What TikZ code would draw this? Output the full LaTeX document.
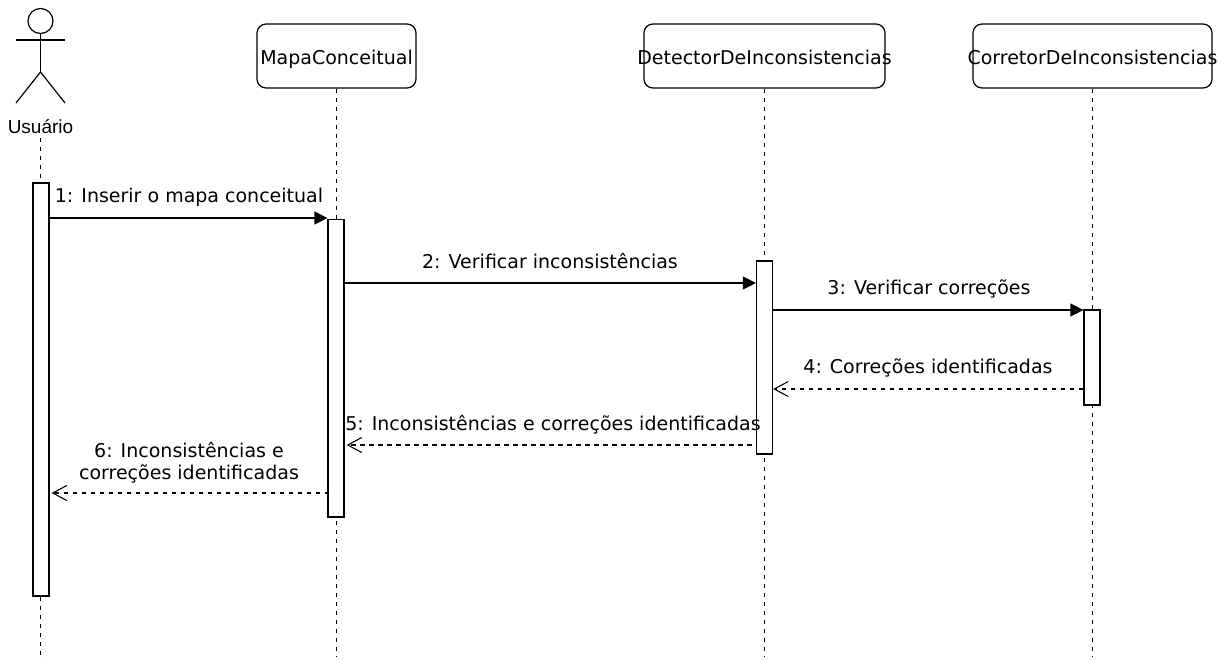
\documentclass[tikz,border=0pt]{standalone}
\usepackage{fontspec}
\setmainfont{DejaVu Sans}
\newfontfamily\actorfont{Liberation Sans}
\usetikzlibrary{arrows.meta}
\tikzset{
    classbox/.style={draw,line width=1.2pt,rounded corners=9pt,minimum height=64pt,inner sep=0pt,font=\fontsize{19}{23}\selectfont},
    bar/.style={draw,fill=white,line width=1.2pt,minimum width=16pt,inner sep=0pt},
    lifeline/.style={line width=1.1pt,dash pattern=on 4.5pt off 4.5pt},
    call/.style={line width=1.2pt,-{Triangle[length=13pt,width=13pt]}},
    reply/.style={line width=1.1pt,dash pattern=on 4.5pt off 4.5pt,-{Straight Barb[length=14pt,width=15pt,line width=1.1pt]}},
    msg/.style={font=\fontsize{19}{22}\selectfont,inner sep=0pt,align=center}
}
\newcommand{\classname}[1]{\makebox[0pt]{\raisebox{-8.5pt}[0pt][0pt]{#1}}}
\begin{document}
\begin{tikzpicture}[x=1pt,y=-1pt]
    \useasboundingbox (0,0) rectangle (1224,659);
    % Ator
    \draw [line width=1.2pt] (40.5,21) circle (12.5pt);
    \draw [line width=1.2pt] (40.5,33.5) -- (40.5,72);
    \draw [line width=1.2pt] (16,40) -- (65,40);
    \draw [line width=1.2pt] (16,103) -- (40.5,72) -- (65,103);
    \node (Usuario) at (40.5,127) {\actorfont\fontsize{19}{22}\selectfont Usuário};
    % Classes
    \node [classbox,minimum width=159pt] (MapaConceitual) at (336.5,56) {\classname{MapaConceitual}};
    \node [classbox,minimum width=241pt] (DetectorDeInconsistencias) at (764.5,56) {\classname{DetectorDeInconsistencias}};
    \node [classbox,minimum width=239pt] (CorretorDeInconsistencias) at (1092.5,56) {\classname{CorretorDeInconsistencias}};
    % Linhas de vida
    \coordinate (endUsuario) at (40.5,660);
    \coordinate (endMapa) at (336.5,656);
    \coordinate (endDetector) at (764.5,656);
    \coordinate (endCorretor) at (1092.5,656);
    \draw [lifeline] (Usuario.south) -- (endUsuario);
    \draw [lifeline] (MapaConceitual.south) -- (endMapa);
    \draw [lifeline] (DetectorDeInconsistencias.south) -- (endDetector);
    \draw [lifeline] (CorretorDeInconsistencias.south) -- (endCorretor);
    % Ativacoes
    \foreach \name/\x/\top/\bottom in {barUsuario/41/183/596,barMapa/336/219.5/517,barDetector/764.5/261/454,barCorretor/1092/310/405}{
        \pgfmathsetmacro{\mid}{(\top+\bottom)/2}
        \pgfmathsetmacro{\len}{\bottom-\top}
        \node [bar,minimum height=\len pt] (\name) at (\x,\mid) {};
    }
    % Mensagens
    \draw [call] (barUsuario.east |- 0,218) -- (barMapa.west |- 0,218);
    \draw [call] (barMapa.east |- 0,283) -- (barDetector.west |- 0,283);
    \draw [call] (barDetector.east |- 0,310) -- (barCorretor.west |- 0,310);
    \draw [reply] (barCorretor.west |- 0,389) -- (barDetector.east |- 0,389);
    \draw [reply] ([xshift=-4pt]barDetector.west |- 0,445) -- ([xshift=2pt]barMapa.east |- 0,445);
    \draw [reply] ([xshift=2pt]barMapa.west |- 0,493) -- ([xshift=2pt]barUsuario.east |- 0,493);
    \node [msg] (msgA) at (189,197.5) {1: Inserir o mapa conceitual};
    \node [msg] (msgB) at (550,261.5) {2: Verificar inconsistências};
    \node [msg] (msgC) at (929,288.5) {3: Verificar correções};
    \node [msg] (msgD) at (928,367.5) {4: Correções identificadas};
    \node [msg] (msgE) at (553,425) {5: Inconsistências e correções identificadas};
    \node [msg] (msgF) at (189,462.5) {6: Inconsistências e\\correções identificadas};
\end{tikzpicture}
\end{document}
